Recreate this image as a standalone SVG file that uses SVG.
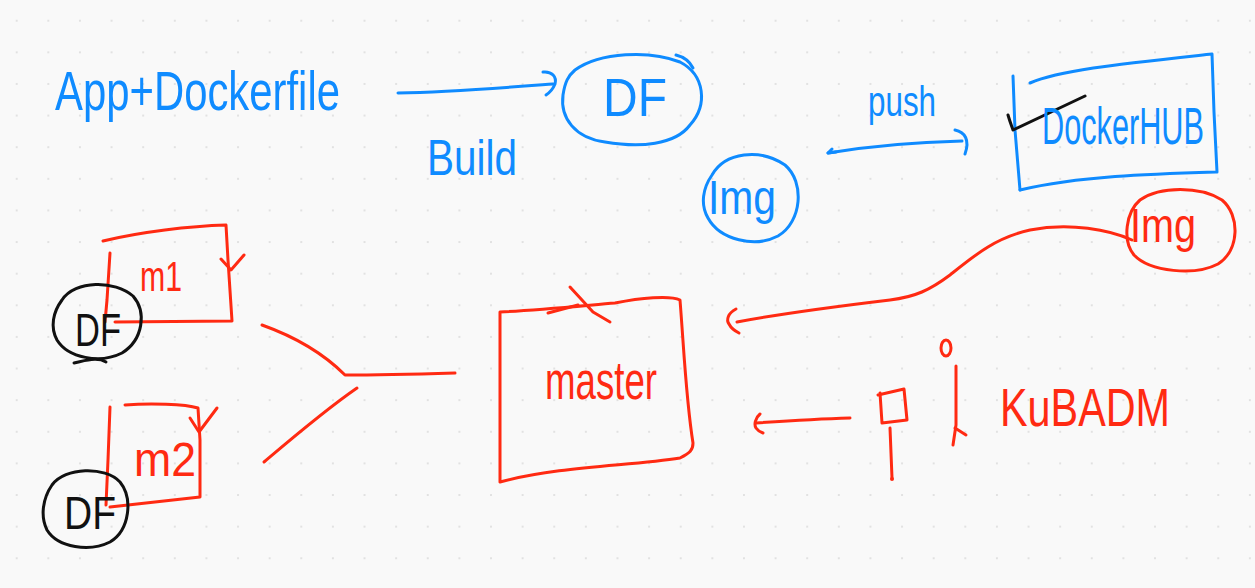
<svg xmlns="http://www.w3.org/2000/svg" width="1255" height="588" viewBox="0 0 1255 588">
<defs>
<pattern id="dots" patternUnits="userSpaceOnUse" x="0.9" y="4.9" width="31.62" height="31.62">
<circle cx="15.81" cy="15.81" r="1.1" fill="#dcdcdc"/>
</pattern>
</defs>
<style>
.b{stroke:#0f8bff;fill:none;stroke-width:3;stroke-linecap:round;stroke-linejoin:round}
.r{stroke:#ff2a12;fill:none;stroke-width:3;stroke-linecap:round;stroke-linejoin:round}
.k{stroke:#111;fill:none;stroke-width:3;stroke-linecap:round;stroke-linejoin:round}
.t{font-family:"Liberation Sans Narrow","Liberation Sans",sans-serif;font-weight:normal}
.tb{fill:#0f8bff}
.tr{fill:#ff2a12}
.tk{fill:#111}
</style>
<rect width="1255" height="588" fill="#f9f9f9"/>
<rect width="1255" height="588" fill="url(#dots)"/>

<g id="app-dockerfile">
<text class="t tb" x="55" y="110" font-size="56" textLength="285" lengthAdjust="spacingAndGlyphs">App+Dockerfile</text>
</g>

<g id="df-image">
<path class="b" d="M575,70 C600,52 650,50 680,62 C705,75 708,105 690,125 C675,145 640,148 605,142 C575,138 560,118 563,95 C565,82 568,76 575,70 Z"/>
<path class="b" d="M676,55 C684,57 690,62 693,68"/>
<text class="t tb" x="603" y="116" font-size="54" textLength="64" lengthAdjust="spacingAndGlyphs">DF</text>
</g>

<g id="build-label">
<text class="t tb" x="427" y="175" font-size="50" textLength="90" lengthAdjust="spacingAndGlyphs">Build</text>
</g>

<g id="img-blue">
<path class="b" d="M712,175 C725,152 760,148 785,165 C805,182 802,222 778,236 C755,248 720,240 708,218 C700,204 703,188 712,175 Z"/>
<text class="t tb" x="708" y="214" font-size="48" textLength="68" lengthAdjust="spacingAndGlyphs">Img</text>
</g>

<g id="push-label">
<text class="t tb" x="868" y="116" font-size="42" textLength="68" lengthAdjust="spacingAndGlyphs">push</text>
</g>

<g id="docker-hub">
<path class="b" d="M1013,76 L1015,130 L1020,190"/>
<path class="b" d="M1030,83 C1060,70 1120,64 1212,54 L1214,112 L1217,172 C1150,174 1080,176 1020,190"/>
<path class="k" d="M1008,115 C1010,122 1012,127 1013,130 L1085,96"/>
<text class="t tb" transform="translate(1042,144) scale(1,1.3)" x="0" y="0" font-size="40" textLength="162" lengthAdjust="spacingAndGlyphs">DockerHUB</text>
</g>

<g id="img-red">
<path class="r" d="M1140,200 C1160,186 1200,186 1222,200 C1240,215 1240,250 1218,264 C1195,276 1150,272 1134,255 C1122,240 1126,212 1140,200 Z"/>
<text class="t tr" x="1130" y="242" font-size="48" textLength="66" lengthAdjust="spacingAndGlyphs">Img</text>
</g>

<g id="m1">
<path class="r" d="M103,241 C140,232 190,226 226,225 L228,260 L232,321 L115,322"/>
<path class="r" d="M110,253 L107,300 L105,322"/>
<path class="r" d="M221,259 L231,270 L244,255"/>
<text class="t tr" x="140" y="291" font-size="42" textLength="42" lengthAdjust="spacingAndGlyphs">m1</text>
</g>

<g id="df1">
<path class="k" d="M62,300 C75,280 115,280 133,296 C147,312 143,340 122,353 C100,364 68,358 57,340 C50,327 53,312 62,300 Z"/>
<path class="k" d="M74,363 C86,360 98,357 106,362"/>
<text class="t tk" x="75" y="346" font-size="46" textLength="46" lengthAdjust="spacingAndGlyphs">DF</text>
</g>

<g id="m2">
<path class="r" d="M125,405 C150,403 185,404 198,408 L200,440 L200,497 L110,507"/>
<path class="r" d="M110,407 L108,460 L106,505"/>
<path class="r" d="M190,418 L199,432 L217,408"/>
<text class="t tr" x="134" y="476" font-size="48" textLength="62" lengthAdjust="spacingAndGlyphs">m2</text>
</g>

<g id="df2">
<path class="k" d="M52,485 C65,467 105,466 120,482 C133,498 130,530 110,542 C90,552 58,548 47,530 C40,516 43,498 52,485 Z"/>
<text class="t tk" x="64" y="529" font-size="46" textLength="52" lengthAdjust="spacingAndGlyphs">DF</text>
</g>

<g id="master">
<path class="r" d="M500,312 C540,310 590,305 615,303 C640,298 670,295 680,300 C684,350 686,400 693,443 C693,450 690,453 680,458 C630,466 560,466 500,482 Z"/>
<path class="r" d="M570,287 L593,312 L610,322"/>
<path class="r" d="M548,313 L578,305"/>
<text class="t tr" x="545" y="399" font-size="54" textLength="112" lengthAdjust="spacingAndGlyphs">master</text>
</g>

<g id="kubeadm">
<path class="r" d="M878,395 L904,389 L907,420 L882,423 L880,393"/>
<path class="r" d="M890,428 L892,478"/>
<circle cx="892" cy="479" r="2" fill="#ff2a12"/>
<ellipse class="r" cx="946" cy="348" rx="5" ry="8"/>
<path class="r" d="M956,366 L956,425 L953,445"/>
<path class="r" d="M955,428 L966,435"/>
<text class="t tr" x="1000" y="426" font-size="54" textLength="170" lengthAdjust="spacingAndGlyphs">KuBADM</text>
</g>

<g id="connectors">
<path class="b" d="M398,93 C450,92 500,88 553,84"/>
<path class="b" d="M543,72 C552,71 557,77 555,84 C553,89 549,93 546,95"/>
<path class="b" d="M828,153 C870,146 920,142 962,141"/>
<path class="b" d="M832,149 L828,153 L836,152"/>
<path class="b" d="M955,130 C965,132 970,140 965,154"/>
<path class="r" d="M1132,240 C1110,230 1070,222 1030,230 C995,238 975,255 950,275 C930,290 915,297 890,300 C840,306 790,312 737,322"/>
<path class="r" d="M736,309 C728,313 726,320 729,324 C731,328 735,331 739,333"/>
<path class="r" d="M262,325 C290,335 320,350 345,375 C380,375 420,374 455,373"/>
<path class="r" d="M357,388 C325,410 290,440 264,462"/>
<path class="r" d="M850,418 C815,419 785,421 756,423"/>
<path class="r" d="M760,414 C755,418 754,425 756,428 C758,431 760,432 763,433"/>
</g>
</svg>
